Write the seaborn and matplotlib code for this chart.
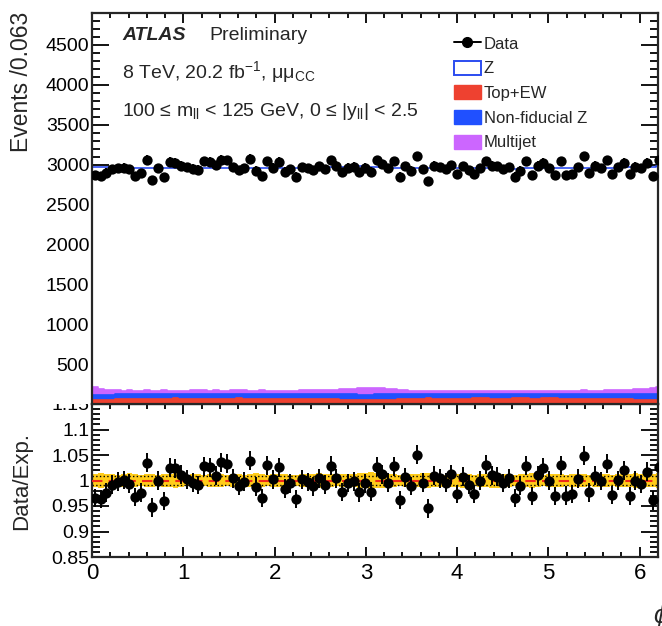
import numpy as np
import pandas as pd
import matplotlib
matplotlib.use("Agg")
import matplotlib.pyplot as plt
from matplotlib.patches import Patch, Rectangle
from matplotlib.lines import Line2D
from matplotlib.ticker import MultipleLocator, FixedLocator
import seaborn as sns

# ---------------- data ----------------
n_bins = 100
phi_max = 6.3
bin_width = 0.063

data_counts = [2866, 2860, 2899, 2940, 2955, 2961, 2940, 2860, 2890, 3064,
               2801, 2955, 2840, 3035, 3026, 2985, 2964, 2949, 2937, 3044,
               3035, 2990, 3064, 3055, 2970, 2931, 2955, 3073, 2925, 2860,
               3044, 2961, 3035, 2911, 2940, 2849, 2967, 2955, 2931, 2979,
               2940, 3055, 2985, 2908, 2961, 2973, 2908, 2961, 2911, 3055,
               3008, 2955, 3044, 2849, 2979, 2925, 3103, 2940, 2792, 2985,
               2970, 2943, 2990, 2878, 2979, 2931, 2878, 2955, 3044, 2985,
               2979, 2943, 2967, 2849, 2925, 3044, 2869, 2985, 3026, 2955,
               2869, 3044, 2869, 2878, 2967, 3103, 2890, 2985, 2955, 3055,
               2878, 2967, 3026, 2878, 2973, 2955, 3026, 2860, 3055, 2985]

z_signal = [2760, 2775, 2790, 2795, 2792, 2790, 2788, 2790, 2792, 2790,
            2791, 2789, 2790, 2792, 2790, 2788, 2790, 2791, 2792, 2790,
            2789, 2791, 2792, 2790, 2788, 2790, 2791, 2790, 2792, 2790,
            2789, 2790, 2792, 2791, 2790, 2788, 2790, 2792, 2791, 2790,
            2789, 2790, 2792, 2790, 2788, 2785, 2780, 2775, 2772, 2770,
            2772, 2776, 2780, 2786, 2790, 2791, 2790, 2789, 2790, 2792,
            2790, 2789, 2791, 2790, 2788, 2790, 2792, 2791, 2790, 2789,
            2790, 2791, 2790, 2788, 2790, 2792, 2791, 2790, 2789, 2790,
            2791, 2790, 2792, 2790, 2788, 2790, 2791, 2792, 2790, 2789,
            2790, 2791, 2790, 2788, 2790, 2786, 2780, 2776, 2770, 2762]

top_ew = [48, 50, 52, 55, 62, 62, 64, 64, 66, 66,
          62, 64, 66, 68, 70, 68, 66, 66, 64, 66,
          68, 66, 64, 66, 68, 70, 66, 64, 62, 64,
          66, 66, 64, 68, 66, 64, 62, 60, 60, 58,
          58, 60, 58, 56, 52, 50, 50, 52, 50, 50,
          52, 54, 56, 62, 64, 66, 68, 68, 70, 66,
          64, 66, 64, 62, 66, 68, 70, 72, 70, 66,
          64, 66, 68, 70, 72, 70, 68, 68, 70, 72,
          70, 68, 66, 64, 66, 68, 66, 64, 62, 62,
          60, 58, 60, 58, 56, 54, 52, 50, 52, 54]

nonfid_z = [66, 64, 62, 60, 60, 62, 64, 62, 60, 62,
            64, 62, 60, 58, 56, 58, 60, 62, 64, 62,
            60, 62, 64, 62, 60, 58, 62, 64, 66, 64,
            62, 60, 62, 58, 60, 62, 64, 66, 66, 68,
            66, 64, 66, 68, 70, 70, 68, 66, 68, 70,
            68, 66, 64, 60, 58, 56, 54, 56, 54, 58,
            60, 58, 60, 62, 58, 56, 54, 52, 54, 58,
            60, 58, 56, 54, 52, 54, 56, 56, 54, 52,
            54, 56, 58, 60, 58, 56, 58, 60, 62, 62,
            64, 66, 64, 66, 68, 70, 70, 70, 68, 68]

multijet = [95, 80, 65, 55, 48, 44, 42, 40, 42, 44,
            40, 42, 44, 42, 40, 38, 40, 42, 44, 42,
            40, 42, 38, 40, 42, 44, 42, 40, 40, 42,
            40, 38, 40, 42, 40, 42, 44, 46, 48, 50,
            52, 54, 56, 60, 66, 72, 80, 84, 86, 84,
            80, 72, 62, 54, 48, 44, 42, 40, 40, 42,
            44, 42, 40, 42, 44, 42, 40, 42, 40, 42,
            44, 42, 40, 38, 40, 42, 44, 42, 40, 42,
            44, 42, 40, 42, 44, 46, 44, 42, 44, 46,
            48, 50, 52, 55, 60, 66, 72, 80, 88, 96]

syst_unc = [0.012, 0.014, 0.013, 0.012, 0.011, 0.013, 0.014, 0.012, 0.011, 0.013,
            0.012, 0.010, 0.012, 0.013, 0.014, 0.012, 0.011, 0.013, 0.012, 0.010,
            0.012, 0.013, 0.012, 0.011, 0.012, 0.013, 0.011, 0.012, 0.014, 0.012,
            0.011, 0.012, 0.013, 0.012, 0.011, 0.010, 0.012, 0.013, 0.012, 0.014,
            0.013, 0.012, 0.011, 0.012, 0.013, 0.012, 0.014, 0.015, 0.016, 0.015,
            0.014, 0.013, 0.012, 0.011, 0.012, 0.013, 0.012, 0.014, 0.015, 0.013,
            0.012, 0.011, 0.012, 0.013, 0.014, 0.012, 0.011, 0.012, 0.013, 0.014,
            0.015, 0.013, 0.012, 0.011, 0.012, 0.013, 0.014, 0.012, 0.011, 0.012,
            0.013, 0.012, 0.011, 0.012, 0.013, 0.012, 0.011, 0.012, 0.013, 0.012,
            0.011, 0.012, 0.013, 0.012, 0.014, 0.013, 0.012, 0.013, 0.014, 0.013]

stat_unc = [0.009] * n_bins

legend_labels = ["Data", "Z", "Top+EW", "Non-fiducial Z", "Multijet"]

# ---------------- styling ----------------
sns.set_theme(style="ticks")
plt.rcParams["font.family"] = ["Liberation Sans", "DejaVu Sans"]
plt.rcParams["mathtext.fontset"] = "custom"
plt.rcParams["mathtext.rm"] = "Liberation Sans"
plt.rcParams["mathtext.it"] = "Liberation Sans:italic"
plt.rcParams["axes.linewidth"] = 1.6

C_Z = "#2B4CF0"
C_TOP = "#EE4130"
C_NONFID = "#2050FF"
C_MJ = "#CC66FF"
C_BAND = "#FFCC1A"

edges = np.linspace(0, phi_max, n_bins + 1)
centers = 0.5 * (edges[:-1] + edges[1:])

data = np.array(data_counts, float)
l_top = np.array(top_ew, float)
l_nf = l_top + np.array(nonfid_z, float)
l_mj = l_nf + np.array(multijet, float)
l_tot = l_mj + np.array(z_signal, float)

W, H = 662, 626
fig = plt.figure(figsize=(W / 100, H / 100), dpi=100)
ax = fig.add_axes([92 / W, 1 - 404 / H, 566 / W, (404 - 13) / H])
axr = fig.add_axes([92 / W, 1 - 557 / H, 566 / W, (557 - 404) / H])
ax.set_zorder(2)

# ---------------- main panel ----------------
for heights, fc, ec in [(l_tot, "white", C_Z), (l_mj, C_MJ, C_MJ),
                        (l_nf, C_NONFID, C_NONFID), (l_top, C_TOP, C_TOP)]:
    df = pd.DataFrame({"phi": centers, "w": heights})
    sns.histplot(data=df, x="phi", weights="w", bins=n_bins, binrange=(0, phi_max),
                 element="step", fill=True,
                 facecolor=fc, edgecolor=ec, alpha=1, linewidth=1.2, ax=ax)

ax.errorbar(centers, data, yerr=np.sqrt(data), xerr=bin_width / 2, fmt="none",
            ecolor="black", elinewidth=1.4, capsize=0, zorder=4)
sns.scatterplot(x=centers, y=data, color="black", s=55, edgecolor="black",
                linewidth=0, ax=ax, zorder=5)

ax.set_xlim(0, 6.2)
ax.set_ylim(0, 4900)
ax.set_ylabel("")
ax.set_xlabel("")
ax.yaxis.set_major_locator(FixedLocator([500, 1000, 1500, 2000, 2500, 3000, 3500, 4000, 4500]))
ax.yaxis.set_minor_locator(MultipleLocator(100))
ax.xaxis.set_major_locator(MultipleLocator(1))
ax.xaxis.set_minor_locator(MultipleLocator(0.2))
ax.tick_params(axis="both", which="both", direction="in", top=True, right=True,
               labelbottom=False, width=1.3, colors="black")
ax.tick_params(axis="y", which="major", length=12, labelsize=14, pad=2)
ax.tick_params(axis="y", which="minor", length=6)
ax.tick_params(axis="x", which="major", length=7)
ax.tick_params(axis="x", which="minor", length=3.5)

# texts
ax.text(30 / 566, 1 - 22 / 391, "ATLAS", transform=ax.transAxes, fontsize=14,
        fontweight="bold", fontstyle="italic", va="center", ha="left")
ax.text(117 / 566, 1 - 22 / 391, "Preliminary", transform=ax.transAxes, fontsize=14,
        va="center", ha="left")
ax.text(30 / 566, 1 - 59 / 391, "8 TeV, 20.2 fb$^{-1}$, μμ$_{\\rm CC}$",
        transform=ax.transAxes, fontsize=14, va="center", ha="left")
ax.text(30 / 566, 1 - 98 / 391,
        "100 ≤ m$_{\\rm ll}$ < 125 GeV, 0 ≤ |y$_{\\rm ll}$| < 2.5",
        transform=ax.transAxes, fontsize=14, va="center", ha="left")

handles = [
    Line2D([0], [0], color="black", marker="o", markersize=7, linewidth=1.4),
    Patch(facecolor="white", edgecolor=C_Z, linewidth=1.4),
    Patch(facecolor=C_TOP, edgecolor=C_TOP),
    Patch(facecolor=C_NONFID, edgecolor=C_NONFID),
    Patch(facecolor=C_MJ, edgecolor=C_MJ),
]
leg = ax.legend(handles, legend_labels, loc="upper left",
                bbox_to_anchor=((454 - 92) / 566, 1 - (36 - 13) / 391), frameon=False,
                fontsize=12, handlelength=1.6, handleheight=0.9,
                labelspacing=0.54, handletextpad=0.2, borderaxespad=0,
                borderpad=0)

# ---------------- ratio panel ----------------
ratio = data / l_tot
ratio_err = np.sqrt(data) / l_tot
unc = np.array(syst_unc + [syst_unc[-1]])
st = np.array(stat_unc + [stat_unc[-1]])
axr.fill_between(edges, 1 - unc, 1 + unc, step="post", color=C_BAND, linewidth=0, zorder=1)
axr.step(edges, 1 - st, where="post", color="black", linestyle=":", linewidth=1.0, zorder=2)
axr.step(edges, 1 + st, where="post", color="black", linestyle=":", linewidth=1.0, zorder=2)
axr.axhline(1.0, color="#EE2A1A", linestyle=(0, (5, 3)), linewidth=1.5, zorder=3)
axr.errorbar(centers, ratio, yerr=ratio_err, xerr=bin_width / 2, fmt="none",
             ecolor="black", elinewidth=1.4, capsize=0, zorder=4)
sns.scatterplot(x=centers, y=ratio, color="black", s=55, linewidth=0, ax=axr, zorder=5)

axr.set_xlim(0, 6.2)
axr.set_ylim(0.85, 1.15)
axr.set_ylabel("")
axr.set_xlabel("")
axr.yaxis.set_major_locator(FixedLocator([0.85, 0.9, 0.95, 1.0, 1.05, 1.1, 1.15]))
axr.set_yticklabels(["0.85", "0.9", "0.95", "1", "1.05", "1.1", "1.15"])
axr.yaxis.set_minor_locator(MultipleLocator(0.01))
axr.xaxis.set_major_locator(MultipleLocator(1))
axr.xaxis.set_minor_locator(MultipleLocator(0.2))
axr.tick_params(axis="both", which="both", direction="in", top=True, right=True,
                width=1.3, colors="black")
axr.tick_params(axis="y", which="major", length=12, labelsize=14, pad=2)
axr.tick_params(axis="y", which="minor", length=6)
axr.tick_params(axis="x", which="major", length=7, labelsize=16, pad=4)
axr.tick_params(axis="x", which="minor", length=3.5)

# white pad edge hiding upper half of the top ratio label (as in the ROOT canvas)
fig.patches.append(Rectangle((20 / W, 1 - 404 / H), 70 / W, 12 / H, transform=fig.transFigure,
                             facecolor="white", edgecolor="none", zorder=3))

fig.text(22 / W, 1 - 12 / H, "Events /0.063", rotation=90, fontsize=16.5,
         ha="center", va="top")
fig.text(22 / W, 1 - 481 / H, "Data/Exp.", rotation=90, fontsize=16,
         ha="center", va="center")
fig.text(653 / W, 1 - 616 / H, r"$\phi$", fontsize=18, ha="left", va="center")

fig.savefig("out.png", dpi=100)
